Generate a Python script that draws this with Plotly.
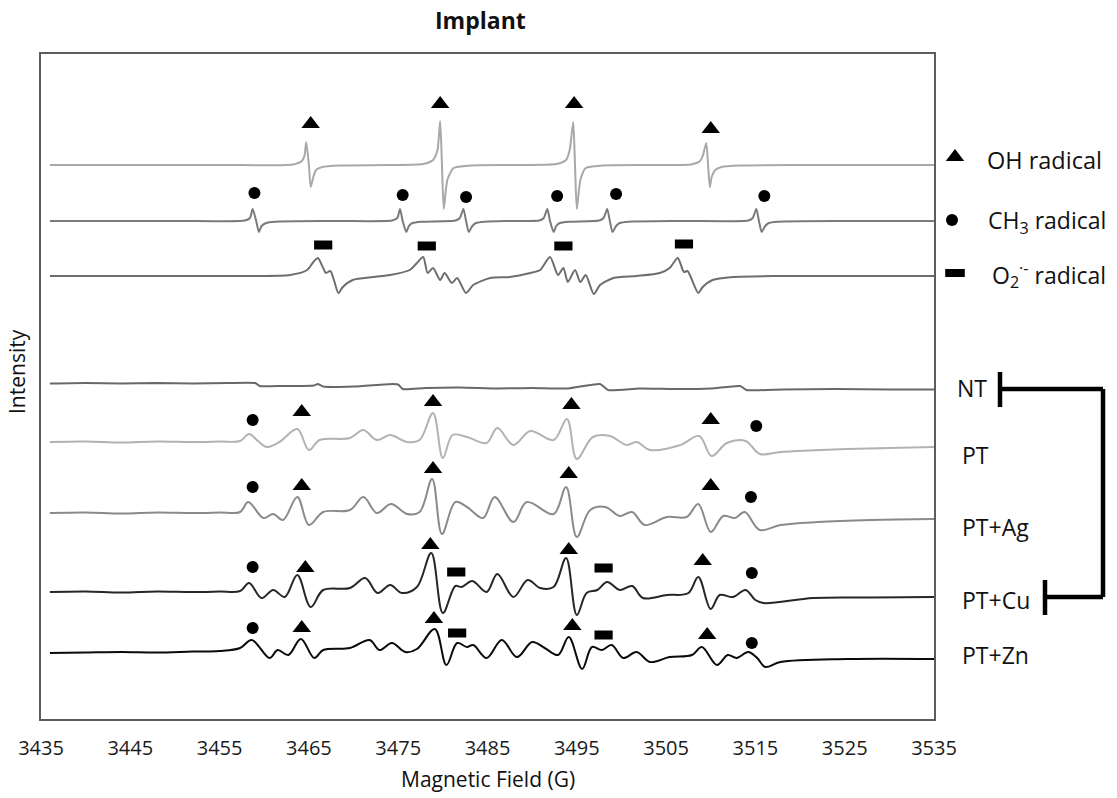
import plotly.graph_objects as go

# ---------------- data (field in G, intensity in arbitrary units relative to each baseline) -------------
x_ticks = [3435, 3445, 3455, 3465, 3475, 3485, 3495, 3505, 3515, 3525, 3535]

# simulated OH adduct
oh_field = [3436, 3455, 3463.2, 3464.2, 3464.5, 3464.7, 3465.0, 3465.2, 3465.5, 3465.8, 3466.5, 3468.5,
            3474, 3477.8, 3478.9, 3479.4, 3479.7, 3479.9, 3480.1, 3480.5, 3481.2, 3483.1,
            3488, 3492.7, 3493.8, 3494.2, 3494.6, 3494.8, 3495.0, 3495.4, 3496.0, 3497.9,
            3503, 3507.8, 3508.8, 3509.1, 3509.5, 3509.7, 3509.9, 3510.1, 3510.5, 3511.2, 3513.3, 3520, 3535]
oh_int = [0, 0, 0.5, 4, 9, 23, 0, -22, -12, -5, -2, -0.5,
          0, 1, 5, 15, 44, 0, -44, -15, -3, -0.5,
          0, 1, 5, 15, 43, 0, -44, -15, -3, -0.5,
          0, 0.5, 4, 9, 22, 0, -22, -12, -5, -2, -0.5, 0, 0]

# simulated CH3 adduct
ch3_field = [3436, 3450,
             3457.8, 3458.4, 3458.7, 3459.1, 3459.4, 3459.7, 3460.2, 3461.2, 3468,
             3474.3, 3474.9, 3475.2, 3475.5, 3475.9, 3476.2, 3476.6, 3477.6,
             3481.4, 3481.9, 3482.3, 3482.6, 3482.9, 3483.3, 3483.7, 3484.7, 3487.5,
             3490.8, 3491.3, 3491.7, 3492.0, 3492.4, 3492.7, 3493.1, 3494.1,
             3497.5, 3498.0, 3498.4, 3498.7, 3499.0, 3499.4, 3499.8, 3500.8, 3507,
             3514.2, 3514.7, 3515.1, 3515.4, 3515.7, 3516.1, 3516.5, 3517.5, 3525, 3535]
ch3_int = [0, 0,
           0.5, 3, 12, 0, -11, -5, -2, -0.7, 0,
           0.5, 3, 12, 0, -11, -5, -2, -0.7,
           0.5, 3, 12, 0, -11, -5, -2, -0.7, 0,
           0.5, 3, 12, 0, -11, -5, -2, -0.7,
           0.5, 3, 12, 0, -11, -5, -2, -0.7, 0,
           0.5, 3, 12, 0, -11, -5, -2, -0.7, 0, 0]

# simulated superoxide adduct
o2_field = [3436, 3458,
            3462.9, 3464.8, 3465.5, 3466.0, 3466.6, 3466.9, 3467.4, 3467.8, 3468.3, 3468.8, 3469.9, 3472.2,
            3474.1, 3476.3, 3477.1, 3477.8, 3478.3, 3478.9, 3479.7, 3480.2, 3481.0, 3481.6, 3482.6, 3483.4, 3485.3,
            3487.5, 3489.8, 3490.9, 3492.0, 3492.9, 3493.5, 3494.0, 3494.8, 3495.4, 3496.0, 3496.9, 3497.6, 3499.1, 3501.7,
            3504.3, 3505.4, 3506.3, 3507.0, 3507.4, 3508.6, 3509.1, 3510.2, 3512.5, 3517.7, 3535]
o2_int = [0, 0,
          1, 6, 14, 18, 8, 3, 5, -4, -17, -11, -4, -1,
          1, 6, 13, 19, 3, 8, -4, 3, -7, -2, -17, -9, -2,
          -1, 3, 6, 19, 1, 8, -6, 6, -6, 1, -18, -9, -2, 0,
          3, 8, 18, 4, 5, -17, -11, -4, -1, 0, 0]

# experimental spectra
nt_field = [3436, 3440, 3444, 3448, 3452, 3456, 3459.0, 3459.5, 3462, 3465.6, 3466.0, 3466.6, 3470,
            3474.4, 3475.0, 3475.5, 3478, 3482, 3486, 3490, 3494, 3497.6, 3498.5, 3502, 3506, 3510,
            3513.3, 3514.0, 3518, 3524, 3530, 3535]
nt_int = [3.5, 4, 3.5, 4, 3.5, 4, 4, 1, 1, 1.5, 3, 0.5, 0.5,
          3, 2.5, -2, -1, -0.5, -1.5, -1, -1.5, 3, -3, -1.5, -2, -1.5,
          1, -3, -2.5, -2, -2.5, -2.5]

pt_field = [3436, 3440, 3444, 3448, 3452, 3455, 3457.3, 3458.3, 3459.3, 3460.3, 3461.7, 3463.7, 3465.0,
            3466.2, 3469.6, 3471.1, 3472.6, 3474.1, 3476.0, 3477.4, 3478.9, 3480.0, 3481.1, 3482.7,
            3484.9, 3486.1, 3487.9, 3489.8, 3492.4, 3493.9, 3495.0, 3496.8, 3498.7, 3500.6, 3501.7,
            3503.2, 3506.6, 3508.7, 3510.1, 3511.8, 3513.9, 3515.5, 3517.8, 3521, 3525.3, 3530, 3535]
pt_int = [0, 0.5, -0.5, 0.5, 0, 0.5, 1, 8, 1, -5, 0, 13, -8,
          2, 4, 12, 2, 7, 0, 2, 29, -16, 7, 5,
          -1, 14, -3, 11, 2, 23, -17, 5, 6, -3, 0,
          -8, -3, 6, -14, -1, 1, -12, -10, -8.5, -7, -6, -5]

ag_field = [3436, 3440, 3444, 3448, 3452, 3455, 3457.3, 3458.2, 3459.9, 3461.0, 3462.1, 3463.7, 3465.0,
            3466.6, 3469.6, 3471.1, 3472.6, 3474.2, 3476.0, 3477.4, 3478.8, 3479.9, 3481.4, 3482.7,
            3484.5, 3485.8, 3487.9, 3489.4, 3492.4, 3493.8, 3495.0, 3496.5, 3498.2, 3499.8, 3501.2,
            3502.6, 3505.1, 3507.3, 3508.6, 3510.0, 3511.4, 3512.7, 3513.8, 3515.5, 3517.8, 3522, 3528, 3535]
ag_int = [0, 0.5, -0.5, 0.5, 0, 0.5, 1, 11, -5, -1, -7, 16, -12,
          1, 3, 16, 0, 9, -1, 1, 34, -21, 11, 6,
          -5, 16, -9, 11, -1, 26, -24, 3, 6, -3, 1,
          -12, -4, -4, 9, -19, -3, -5, 1, -17, -12, -9, -7, -6]

cu_field = [3436, 3440, 3444, 3448, 3452, 3455, 3457.3, 3458.3, 3459.7, 3461.0, 3462.3, 3463.7, 3465.2,
            3466.6, 3469.6, 3471.3, 3472.7, 3474.1, 3475.4, 3477.1, 3478.7, 3480.0, 3481.4, 3482.1,
            3483.3, 3484.9, 3486.1, 3487.9, 3489.5, 3490.9, 3492.4, 3493.8, 3495.0, 3496.1, 3497.3,
            3498.4, 3499.8, 3501.2, 3502.4, 3505.1, 3507.5, 3508.6, 3510.0, 3511.0, 3512.5, 3513.9,
            3515.0, 3515.9, 3521.5, 3528, 3535]
cu_int = [0, 0.5, -0.5, 0.5, 0, 0.5, 1, 9, -6, 2, -5, 17, -15,
          2, 4, 14, -1, 7, -1, 5, 39, -21, 6, 5,
          11, 0, 18, -5, 12, 4, 5, 34, -23, -1, 2,
          10, 2, 6, -6, -3, -1, 15, -17, -3, -5, 2,
          -8, -11, -6, -5.5, -5]

zn_field = [3436, 3440, 3444, 3448, 3452, 3455, 3457.3, 3458.6, 3460.6, 3461.5, 3462.7, 3464.1, 3465.6,
            3466.6, 3469.6, 3471.8, 3472.9, 3474.3, 3475.8, 3477.1, 3479.1, 3480.4, 3481.6, 3482.7,
            3483.4, 3484.9, 3486.6, 3488.3, 3490.0, 3491.4, 3492.9, 3494.1, 3495.6, 3496.7, 3497.8,
            3498.9, 3500.2, 3501.7, 3503.2, 3505.4, 3507.9, 3509.0, 3510.7, 3511.9, 3512.9, 3514.2,
            3515.2, 3516.1, 3517.8, 3525.3, 3535]
zn_int = [-1, -0.5, 0, -0.5, 0.5, 1, 4, 12, -6, 2, -3, 13, -6,
          2, 4, 12, 2, 9, 0, 3, 23, -13, 9, 5,
          7, -6, 12, -5, 10, 4, -3, 15, -17, 5, 2,
          7, -6, 0, -10, -5, -3, 5, -13, -3, -6, 0,
          -6, -15, -10, -7, -7]

# vertical stacking offsets of each spectrum (a.u.)
offsets = {"OH": 554, "CH3": 498, "O2": 443, "NT": 332, "PT": 277,
           "PT+Ag": 206, "PT+Cu": 127, "PT+Zn": 67}

# peak assignment markers: (field, height above baseline)
tri_marks = {"OH": ([3465.2, 3479.7, 3494.7, 3510.0], [41, 61, 61, 36]),
             "PT": ([3464.2, 3478.9, 3494.4, 3510.0], [30, 40, 37, 22]),
             "PT+Ag": ([3464.2, 3478.9, 3494.1, 3510.0], [27, 44, 39, 27]),
             "PT+Cu": ([3464.6, 3478.6, 3494.1, 3509.1], [24, 47, 42, 31]),
             "PT+Zn": ([3464.2, 3479.0, 3494.5, 3509.6], [24, 33, 26, 17])}
dot_marks = {"CH3": ([3458.9, 3475.5, 3482.6, 3492.8, 3499.4, 3516.0], [28, 26, 24, 25, 27, 25]),
             "PT": ([3458.7, 3515.1], [22, 16]),
             "PT+Ag": ([3458.7, 3514.5], [26, 16]),
             "PT+Cu": ([3458.7, 3514.6], [25, 19]),
             "PT+Zn": ([3458.7, 3514.6], [24, 9])}
sq_marks = {"O2": ([3466.6, 3478.2, 3493.5, 3507.0], [31, 30, 30, 32]),
            "PT+Cu": ([3481.5, 3498.0], [20, 24]),
            "PT+Zn": ([3481.6, 3498.0], [19, 17])}

spectra = [("OH", oh_field, oh_int, "#a8a8a8", 0.6),
           ("CH3", ch3_field, ch3_int, "#7a7a7a", 0.6),
           ("O2", o2_field, o2_int, "#6e6e6e", 0.7),
           ("NT", nt_field, nt_int, "#686868", 0.5),
           ("PT", pt_field, pt_int, "#b2b2b2", 1.0),
           ("PT+Ag", ag_field, ag_int, "#8a8a8a", 1.0),
           ("PT+Cu", cu_field, cu_int, "#262626", 1.0),
           ("PT+Zn", zn_field, zn_int, "#0a0a0a", 1.0)]

# ---------------- figure ----------------
OFF = 8                       # page body margin of the html page
W, H = 1117 - OFF, 798 - OFF  # figure size
FL, FR, FT, FB = 41, 934, 54, 719   # plot frame in screen pixels (layout only)
FONT = "Open Sans"

fig = go.Figure()

for name, fx, fy, col, sm in spectra:
    off = offsets[name]
    fig.add_trace(go.Scatter(x=fx, y=[off + v for v in fy], mode="lines",
                             line=dict(color=col, width=2, shape="spline", smoothing=sm),
                             hoverinfo="skip", showlegend=False, xaxis="x", yaxis="y"))


def marks_trace(d, marker):
    xs, ys = [], []
    for k, (fx, hy) in d.items():
        xs += fx
        ys += [offsets[k] + h for h in hy]
    return go.Scatter(x=xs, y=ys, mode="markers", marker=marker, cliponaxis=False,
                      hoverinfo="skip", showlegend=False, xaxis="x", yaxis="y")


fig.add_trace(marks_trace(tri_marks, dict(symbol="triangle-up", size=16, color="black")))
fig.add_trace(marks_trace(dot_marks, dict(symbol="circle", size=12, color="black")))
fig.add_trace(marks_trace(sq_marks, dict(symbol="line-ew", size=13, color="black",
                                         line=dict(width=9, color="black"))))

# key markers on the right (screen-pixel overlay axes)
fig.add_trace(go.Scatter(x=[955], y=[157], mode="markers", xaxis="x2", yaxis="y2",
                         marker=dict(symbol="triangle-up", size=16, color="black"),
                         hoverinfo="skip", showlegend=False))
fig.add_trace(go.Scatter(x=[952], y=[220], mode="markers", xaxis="x2", yaxis="y2",
                         marker=dict(symbol="circle", size=12, color="black"),
                         hoverinfo="skip", showlegend=False))
fig.add_trace(go.Scatter(x=[955], y=[273], mode="markers", xaxis="x2", yaxis="y2",
                         marker=dict(symbol="line-ew", size=14, color="black",
                                     line=dict(width=8, color="black")),
                         hoverinfo="skip", showlegend=False))

ann = []
def txt(x, y, s, size=23, anchor="left", bold=False, angle=0):
    ann.append(dict(x=x, y=y, xref="x2", yref="y2", text=("<b>%s</b>" % s) if bold else s,
                    showarrow=False, xanchor=anchor, yanchor="middle", textangle=angle,
                    font=dict(family=FONT, size=size, color="#111111")))

txt(985, 160, "OH radical", 23.5)
txt(986, 221, "CH<sub>3</sub> radical", 23)
txt(990, 275, "O<sub>2</sub><sup>·-</sup> radical", 23)
txt(955, 388, "NT", 23)
txt(960, 455, "PT", 23)
txt(960, 527, "PT+Ag", 23)
txt(960, 600, "PT+Cu", 23)
txt(960, 655, "PT+Zn", 23)
txt(480, 20, "Implant", 23, anchor="center", bold=True)
txt(488, 779, "Magnetic Field (G)", 21, anchor="center")
txt(17, 372, "Intensity", 21, anchor="center", angle=-90)
txt(1111, 486, "*", 20)

shapes = []
def seg(x0, y0, x1, y1, w=4.5):
    shapes.append(dict(type="line", xref="x2", yref="y2", x0=x0, y0=y0, x1=x1, y1=y1,
                       line=dict(color="black", width=w)))

seg(1000, 372, 1000, 407)
seg(1000, 389, 1103, 389)
seg(1103, 389, 1103, 597)
seg(1045, 597, 1103, 597)
seg(1045, 580, 1045, 615)

fig.update_layout(
    width=W, height=H, autosize=False,
    margin=dict(l=0, r=0, t=0, b=0, pad=0, autoexpand=False),
    paper_bgcolor="white", plot_bgcolor="rgba(0,0,0,0)",
    showlegend=False,
    annotations=ann, shapes=shapes,
    xaxis=dict(domain=[(FL - OFF) / W, (FR - OFF) / W], range=[3435, 3535], tickvals=x_ticks,
               ticktext=[str(t) for t in x_ticks], ticks="", showgrid=False, zeroline=False,
               showline=True, mirror=True, linecolor="#5c5c5c", linewidth=2,
               tickfont=dict(family=FONT, size=20, color="#1a1a1a"), ticklabelstandoff=10,
               automargin=False, fixedrange=True, anchor="y"),
    yaxis=dict(domain=[(OFF + H - FB) / H, (OFF + H - FT) / H], range=[0, FB - FT],
               showticklabels=False, ticks="", showgrid=False, zeroline=False, showline=True,
               mirror=True, linecolor="#5c5c5c", linewidth=2, automargin=False,
               fixedrange=True, anchor="x"),
    xaxis2=dict(domain=[0, 1], range=[OFF, OFF + W], visible=False, automargin=False,
                fixedrange=True, anchor="y2"),
    yaxis2=dict(domain=[0, 1], range=[OFF + H, OFF], visible=False, automargin=False,
                fixedrange=True, anchor="x2"),
)

fig.write_html("out.html")
